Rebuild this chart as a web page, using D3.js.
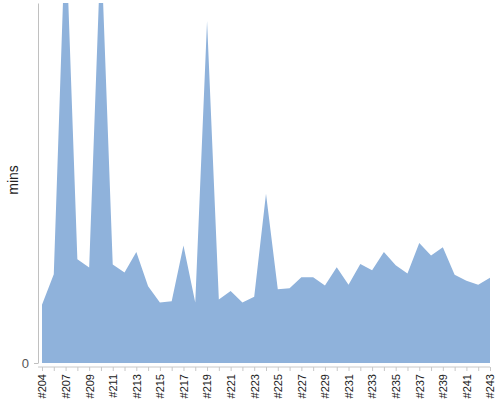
<!DOCTYPE html>
<html>
<head>
<meta charset="utf-8">
<script src="https://cdn.jsdelivr.net/npm/d3@7"></script>
<style>
  body { margin: 0; background: #fff; }
  svg { display: block; }
</style>
</head>
<body>
<svg id="chart" width="500" height="400"></svg>
<script>
// build ids, one per run
const categories = [
  '#204', '#206', '#207', '#208', '#209', '#210', '#211', '#212', '#213', '#214',
  '#215', '#216', '#217', '#218', '#219', '#220', '#221', '#222', '#223', '#224',
  '#225', '#226', '#227', '#228', '#229', '#230', '#231', '#232', '#233', '#234',
  '#235', '#236', '#237', '#238', '#239', '#240', '#241', '#242', '#243',
]
// duration in minutes
const mins = [
  9.7, 14.8, 73, 17.3, 15.9, 70, 16.4, 15.1, 18.5, 12.8,
  10.1, 10.3, 19.6, 10.1, 57, 10.6, 12, 10.1, 11.05, 28.2,
  12.3, 12.45, 14.3, 14.3, 12.9, 15.95, 13.05, 16.5, 15.45, 18.5,
  16.3, 14.9, 20, 17.9, 19.3, 14.7, 13.7, 13.05, 14.2,
]
// only every other id gets a label
const tickLabels = [
  '#204', '#207', '#209', '#211', '#213', '#215', '#217', '#219', '#221', '#223',
  '#225', '#227', '#229', '#231', '#233', '#235', '#237', '#239', '#241', '#243',
]
const yTicks = [0]

const plotTop = 3
const plotBottom = 363
const plotLeft = 38

const svg = d3.select('#chart')

const x = d3.scalePoint().domain(categories).range([42, 490])
const y = d3.scaleLinear().domain([0, 60]).range([plotBottom, plotTop])

svg.append('defs')
  .append('clipPath')
  .attr('id', 'plot-clip')
  .append('rect')
  .attr('x', 0)
  .attr('y', plotTop)
  .attr('width', 500)
  .attr('height', plotBottom - plotTop)

const area = d3.area()
  .x((d, i) => x(categories[i]))
  .y0(y(0))
  .y1((d) => y(d))

svg.append('path')
  .datum(mins)
  .attr('clip-path', 'url(#plot-clip)')
  .attr('fill', '#8fb2db')
  .attr('d', area)

// x axis
const xAxis = d3.axisBottom(x)
  .tickSizeInner(4)
  .tickSizeOuter(0)
  .tickFormat((d) => (tickLabels.includes(d) ? d : ''))
const xAxisGroup = svg.append('g')
  .attr('transform', `translate(0, ${plotBottom + 4})`)
  .call(xAxis)
xAxisGroup.select('.domain').remove()
xAxisGroup.append('line')
  .attr('x1', plotLeft)
  .attr('x2', x.range()[1])
  .attr('stroke', '#c8c8c8')
xAxisGroup.selectAll('.tick line').attr('stroke', '#c8c8c8')
xAxisGroup.selectAll('text')
  .attr('fill', '#222')
  .attr('font-family', 'Liberation Sans, Arial, sans-serif')
  .attr('font-size', '11px')
  .attr('text-anchor', 'end')
  .attr('dy', '0.35em')
  .attr('transform', 'translate(0, 4) rotate(-90)')
  .attr('x', -3)
  .attr('y', 0)

// y axis
const yAxis = d3.axisLeft(y)
  .tickValues(yTicks)
  .tickSizeInner(4)
  .tickSizeOuter(0)
  .tickPadding(5)
const yAxisGroup = svg.append('g')
  .attr('transform', `translate(${plotLeft}, 0)`)
  .call(yAxis)
yAxisGroup.select('.domain').attr('stroke', '#c0c0c0')
yAxisGroup.selectAll('.tick line').attr('stroke', '#c0c0c0')
yAxisGroup.selectAll('text')
  .attr('fill', '#555')
  .attr('font-family', 'Liberation Sans, Arial, sans-serif')
  .attr('font-size', '13px')

svg.append('text')
  .attr('transform', 'translate(18, 180) rotate(-90)')
  .attr('text-anchor', 'middle')
  .attr('fill', '#222')
  .attr('font-family', 'Liberation Sans, Arial, sans-serif')
  .attr('font-size', '14px')
  .text('mins')
</script>
</body>
</html>
